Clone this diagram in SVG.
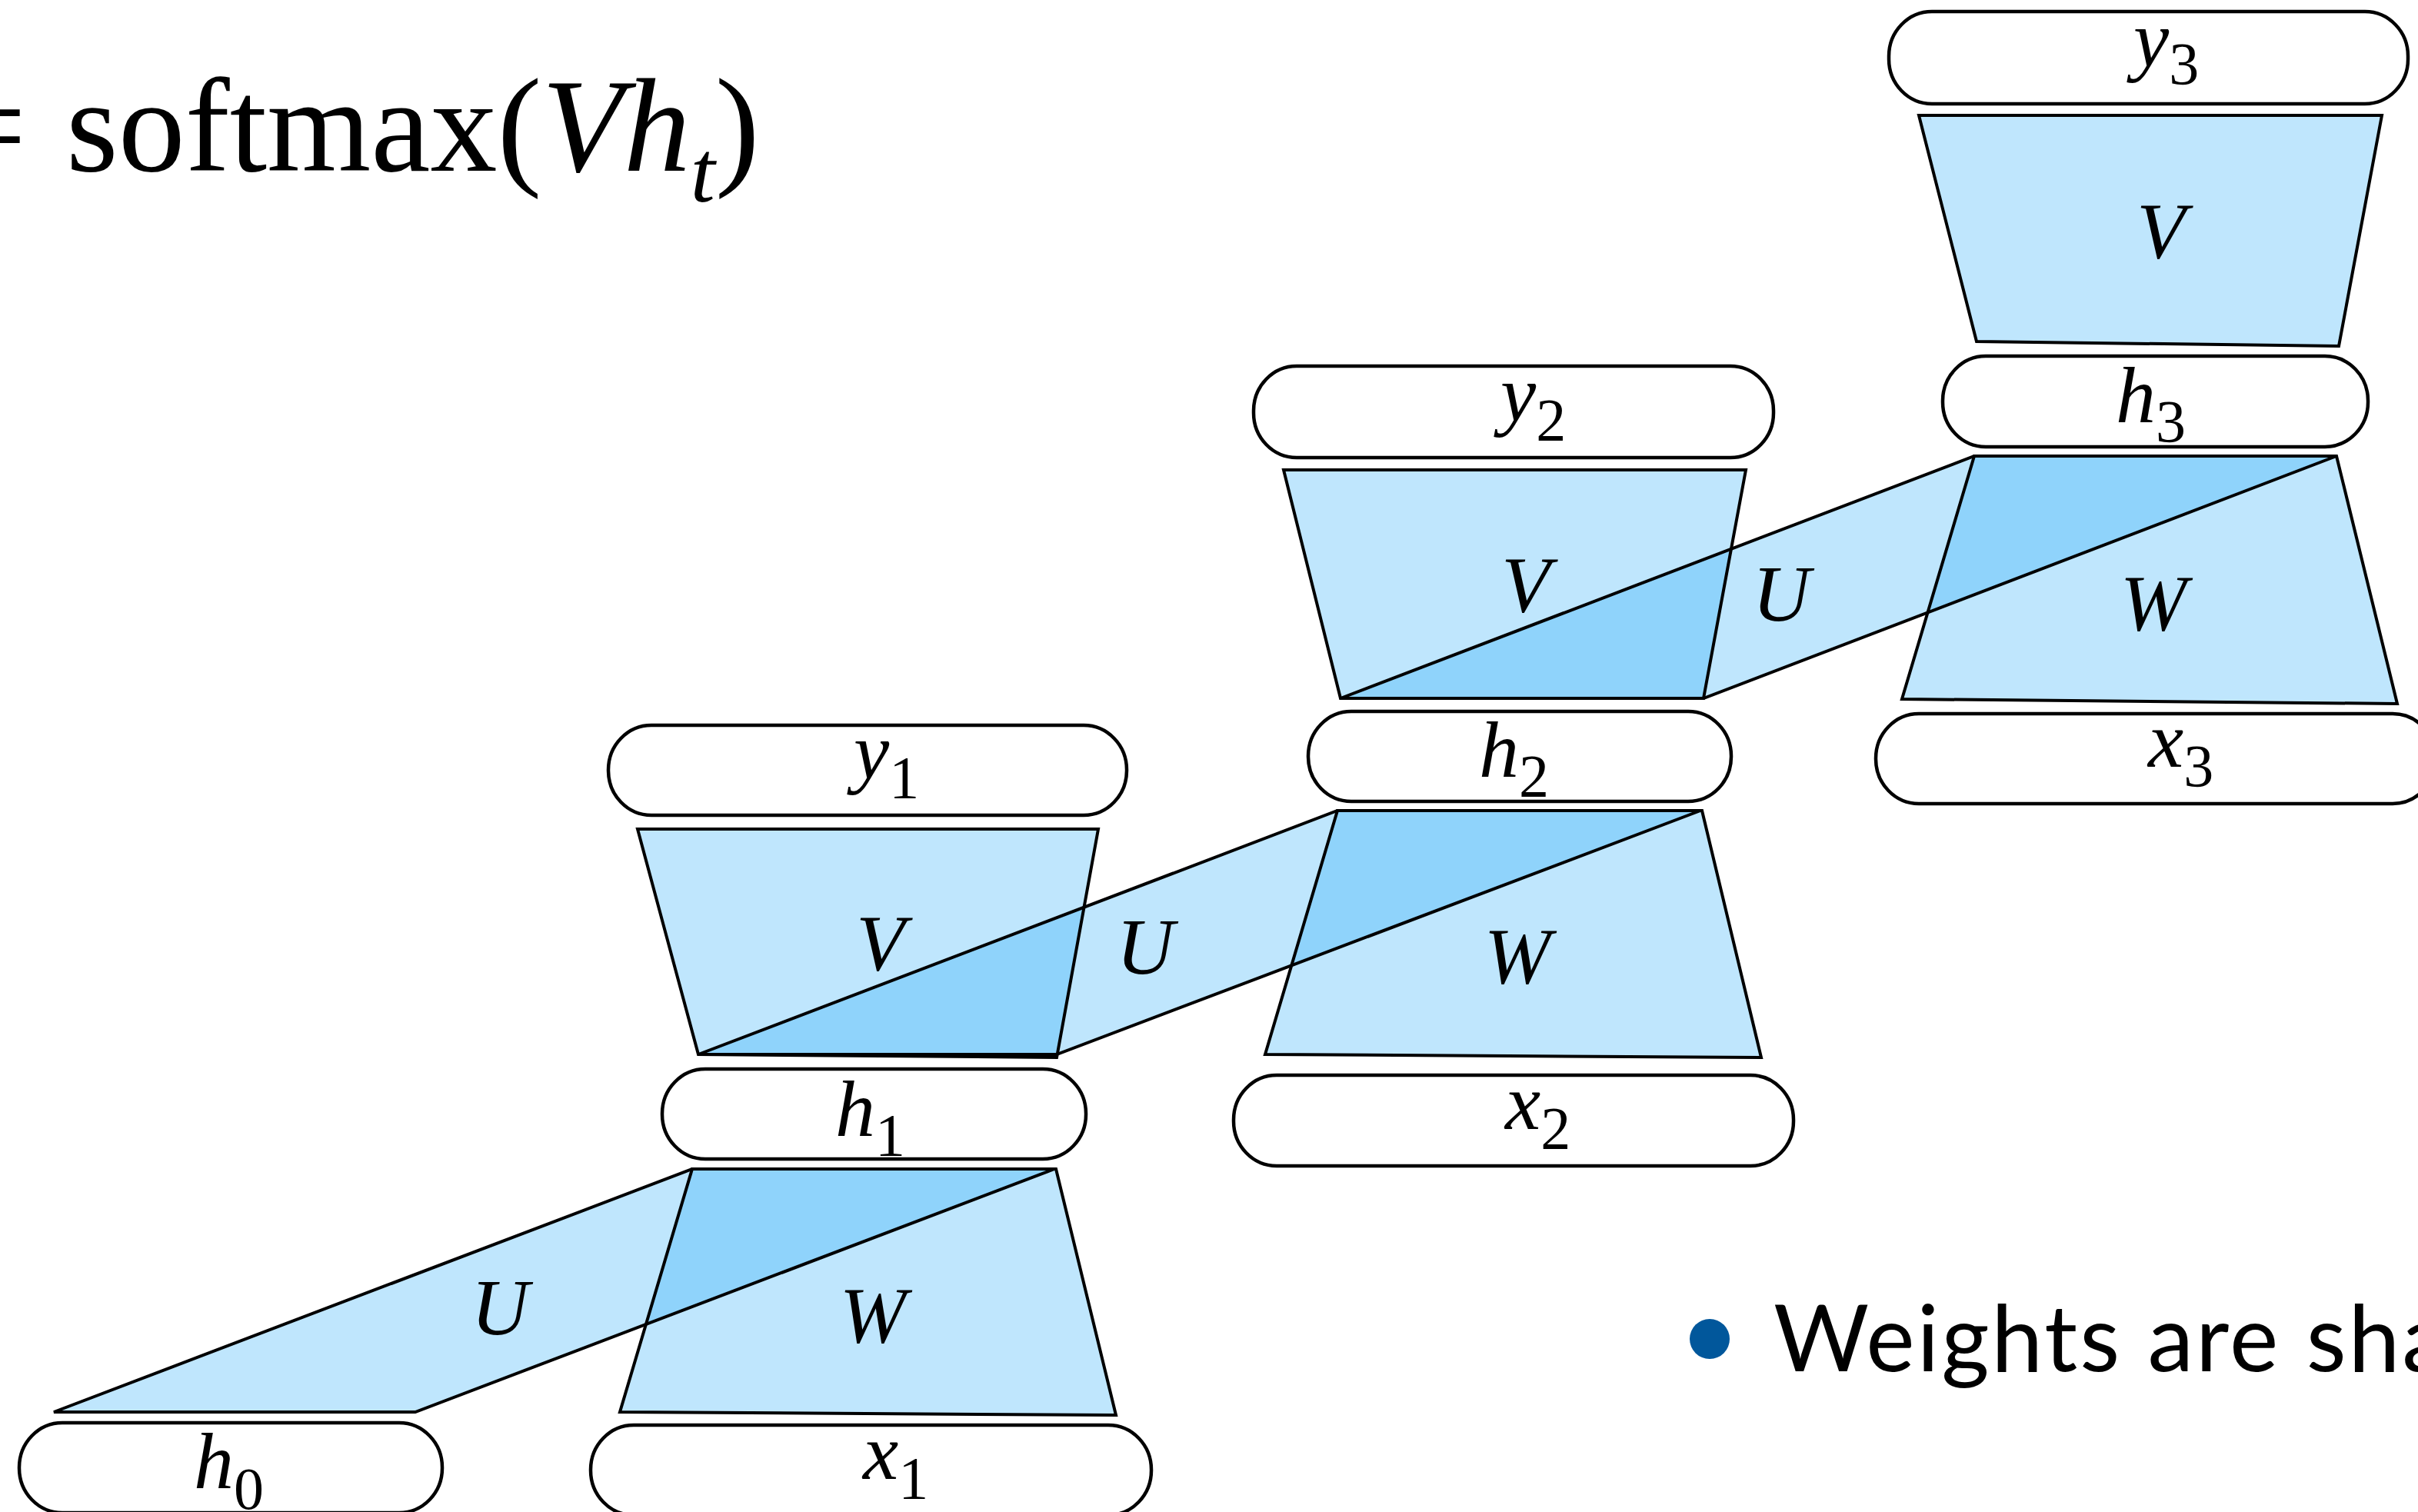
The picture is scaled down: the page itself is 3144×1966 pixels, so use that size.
<svg xmlns="http://www.w3.org/2000/svg" width="3144" height="1966" viewBox="0 0 3144 1966">
<style>
  .box { fill: #ffffff; stroke: #000000; stroke-width: 4.5; }
  .wfill { fill: rgb(0,155,247); fill-opacity: 0.25; stroke: none; }
  .wline { fill: none; stroke: #000000; stroke-width: 4; stroke-linejoin: miter; }
  .lbl { font-family: "Liberation Serif", "Times New Roman", serif; font-style: italic; font-size: 104px; fill: #000; }
  .sub { font-style: normal; font-size: 78px; }
  .wl { font-family: "Liberation Serif", "Times New Roman", serif; font-style: italic; font-size: 104px; fill: #000; text-anchor: middle; }
  .formula { font-family: "Liberation Serif", "Times New Roman", serif; font-size: 174px; fill: #000; }
  .bullet { font-family: Lato, "Open Sans", sans-serif; font-size: 120px; fill: #000; }
</style>
<rect x="0" y="0" width="3144" height="1966" fill="#ffffff"/>

<!-- formula -->
<g id="formula">
  <text class="formula" x="-64" y="222">=</text>
  <text class="formula" x="86" y="222">softmax(<tspan font-style="italic">V</tspan><tspan font-style="italic">h</tspan><tspan font-style="italic" font-size="115" dy="40">t</tspan><tspan dy="-40">)</tspan></text>
</g>

<!-- weight connectors -->
<g id="connectors">
  <g id="connector-fills">
    <polygon id="U1-fill" class="wfill" points="70,1836 540,1836 1371,1520 900,1520"/>
    <polygon id="W1-fill" class="wfill" points="900,1520 1373,1520 1451,1840 806,1836"/>
    <polygon id="V1-fill" class="wfill" points="829,1078 1428,1078 1374,1375 908,1371"/>
    <polygon id="U2-fill" class="wfill" points="908,1371 1374,1371 2211,1054 1739,1054"/>
    <polygon id="W2-fill" class="wfill" points="1739,1054 2213,1054 2290,1375 1645,1371"/>
    <polygon id="V2-fill" class="wfill" points="1669,611 2270,611 2215,908 1743,908"/>
    <polygon id="U3-fill" class="wfill" points="1743,908 2215,908 3038,593 2567,593"/>
    <polygon id="W3-fill" class="wfill" points="2567,593 3038,593 3117,915 2473,909"/>
    <polygon id="V3-fill" class="wfill" points="2495,150 3097,150 3041,450 2570,444"/>
  </g>
  <g id="connector-outlines">
    <polygon class="wline" points="70,1836 540,1836 1371,1520 900,1520"/>
    <polygon class="wline" points="900,1520 1373,1520 1451,1840 806,1836"/>
    <polygon class="wline" points="829,1078 1428,1078 1374,1375 908,1371"/>
    <polygon class="wline" points="908,1371 1374,1371 2211,1054 1739,1054"/>
    <polygon class="wline" points="1739,1054 2213,1054 2290,1375 1645,1371"/>
    <polygon class="wline" points="1669,611 2270,611 2215,908 1743,908"/>
    <polygon class="wline" points="1743,908 2215,908 3038,593 2567,593"/>
    <polygon class="wline" points="2567,593 3038,593 3117,915 2473,909"/>
    <polygon class="wline" points="2495,150 3097,150 3041,450 2570,444"/>
  </g>
  <g id="connector-labels">
    <text class="wl" x="650" y="1735">U</text>
    <text class="wl" x="1135" y="1745">W</text>
    <text class="wl" x="1145" y="1261">V</text>
    <text class="wl" x="1489" y="1266">U</text>
    <text class="wl" x="1973" y="1278">W</text>
    <text class="wl" x="1984" y="795">V</text>
    <text class="wl" x="2316" y="807">U</text>
    <text class="wl" x="2800" y="819">W</text>
    <text class="wl" x="2810" y="335">V</text>
  </g>
</g>

<!-- nodes -->
<g id="node-h0"><rect class="box" x="25" y="1850" width="550" height="117" rx="56" ry="58"/><text class="lbl" x="252" y="1935">h<tspan class="sub" dy="27">0</tspan></text></g>
<g id="node-x1"><rect class="box" x="768" y="1853" width="729" height="117" rx="56" ry="58"/><text class="lbl" x="1122" y="1923">x<tspan class="sub" dy="25">1</tspan></text></g>
<g id="node-h1"><rect class="box" x="861" y="1390" width="551" height="117" rx="56" ry="58"/><text class="lbl" x="1086" y="1477">h<tspan class="sub" dy="25">1</tspan></text></g>
<g id="node-y1"><rect class="box" x="791" y="943" width="674" height="117" rx="56" ry="58"/><text class="lbl" x="1110" y="1012">y<tspan class="sub" dy="25">1</tspan></text></g>
<g id="node-h2"><rect class="box" x="1701" y="925" width="550" height="117" rx="56" ry="58"/><text class="lbl" x="1923" y="1010">h<tspan class="sub" dy="25">2</tspan></text></g>
<g id="node-x2"><rect class="box" x="1604" y="1398" width="728" height="118" rx="56" ry="58"/><text class="lbl" x="1957" y="1468">x<tspan class="sub" dy="25">2</tspan></text></g>
<g id="node-y2"><rect class="box" x="1630" y="476" width="676" height="119" rx="56" ry="58"/><text class="lbl" x="1951" y="547">y<tspan class="sub" dy="25">2</tspan></text></g>
<g id="node-h3"><rect class="box" x="2526" y="463" width="553" height="118" rx="56" ry="58"/><text class="lbl" x="2751" y="549">h<tspan class="sub" dy="25">3</tspan></text></g>
<g id="node-x3"><rect class="box" x="2439" y="928" width="728" height="117" rx="56" ry="58"/><text class="lbl" x="2793" y="997">x<tspan class="sub" dy="25">3</tspan></text></g>
<g id="node-y3"><rect class="box" x="2456" y="15" width="675" height="120" rx="56" ry="58"/><text class="lbl" x="2774" y="86">y<tspan class="sub" dy="23">3</tspan></text></g>

<!-- bullet -->
<g id="bullet">
  <circle cx="2223" cy="1741" r="26" fill="#01579b"/>
  <text class="bullet" x="2306" y="1783" textLength="877" lengthAdjust="spacing">Weights are sha</text>
</g>
</svg>
